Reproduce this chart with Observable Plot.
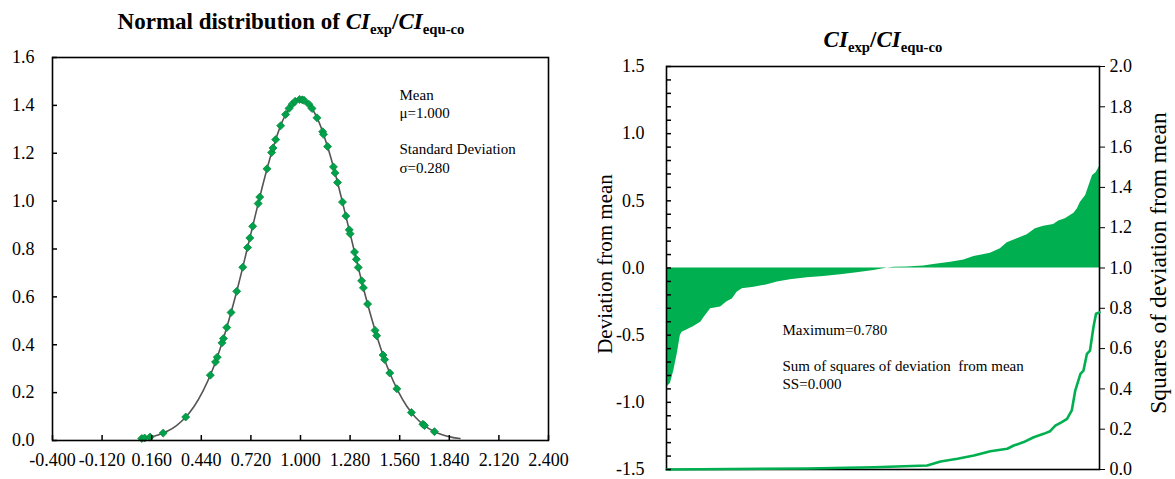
<!DOCTYPE html>
<html><head><meta charset="utf-8">
<script src="https://cdn.jsdelivr.net/npm/d3@7"></script>
<script src="https://cdn.jsdelivr.net/npm/@observablehq/plot@0.6"></script>
<style>
body{margin:0;background:#fff;width:1175px;height:479px;position:relative;overflow:hidden;font-family:"Liberation Serif","Times New Roman",serif;color:#000;}
#left{position:absolute;left:0;top:0;}
#right{position:absolute;left:580px;top:0;}
svg text{font-family:"Liberation Serif","Times New Roman",serif;}
.title{position:absolute;font-weight:bold;font-size:23px;white-space:nowrap;transform:translateX(-50%);line-height:1;}
.title i{font-style:italic}
.title sub{font-size:0.64em;font-style:normal;vertical-align:baseline;position:relative;top:0.32em}
.ytitle{position:absolute;font-size:21px;white-space:nowrap;line-height:1;transform:translate(-50%,-50%) rotate(-90deg);}
</style></head><body>
<div id="left"></div><div id="right"></div>
<div class="title" style="left:291px;top:10px">Normal distribution of <i>CI</i><sub>exp</sub>/<i>CI</i><sub>equ-co</sub></div>
<div class="title" style="left:883px;top:28px"><i>CI</i><sub>exp</sub>/<i>CI</i><sub>equ-co</sub></div>
<div class="ytitle" style="left:605px;top:264px">Deviation from mean</div>
<div class="ytitle" style="left:1159px;top:263px;font-size:23.5px">Squares of deviation from mean</div>
<script>
// ---------- Left chart data ----------
const xTicks = [-0.4, -0.12, 0.16, 0.44, 0.72, 1.0, 1.28, 1.56, 1.84, 2.12, 2.4];
const yTicksLeft = [0, 0.2, 0.4, 0.6, 0.8, 1.0, 1.2, 1.4, 1.6];
const curveX = [0.10,0.15,0.20,0.25,0.30,0.35,0.40,0.45,0.50,0.55,0.60,0.65,0.70,0.75,0.80,0.85,0.90,0.95,1.00,
                1.05,1.10,1.15,1.20,1.25,1.30,1.35,1.40,1.45,1.50,1.55,1.60,1.65,1.70,1.75,1.80,1.85,1.90];
const curveY = [0.0081,0.0142,0.0240,0.0394,0.0626,0.0963,0.143,0.207,0.289,0.392,0.514,0.652,0.803,0.956,1.104,1.234,1.337,1.402,1.425,
                1.402,1.337,1.234,1.104,0.956,0.803,0.652,0.514,0.392,0.289,0.207,0.143,0.0963,0.0626,0.0394,0.0240,0.0142,0.0081];
const pointX = [0.104,0.12,0.151,0.225,0.352,0.491,0.520,0.53,0.557,0.565,0.584,0.608,0.640,0.674,0.701,0.714,0.73,0.761,0.77,0.811,0.837,0.845,0.860,0.888,0.916,0.935,0.953,0.970,0.995,1.010,1.020,
                1.047,1.065,1.093,1.125,1.13,1.153,1.186,1.195,1.209,1.237,1.256,1.275,1.28,1.305,1.315,1.326,1.345,1.355,1.379,1.421,1.43,1.466,1.475,1.504,1.544,1.626,1.691,1.70,1.756];
const pointY = [0.0085,0.0102,0.0144,0.031,0.098,0.273,0.328,0.348,0.408,0.426,0.472,0.535,0.623,0.724,0.806,0.846,0.895,0.990,1.017,1.135,1.203,1.222,1.257,1.315,1.362,1.387,1.405,1.417,1.425,1.423,1.421,
                1.405,1.387,1.348,1.290,1.279,1.228,1.143,1.118,1.078,0.996,0.938,0.880,0.864,0.787,0.757,0.723,0.667,0.638,0.570,0.460,0.438,0.357,0.338,0.282,0.216,0.117,0.068,0.0626,0.037];
const leftNote = "Mean\nμ=1.000\n\nStandard Deviation\nσ=0.280";

// ---------- Right chart data ----------
const devTicks = [-1.5, -1.0, -0.5, 0, 0.5, 1.0, 1.5];
const devMinorTicks = [-1.5,-1.4,-1.3,-1.2,-1.1,-1.0,-0.9,-0.8,-0.7,-0.6,-0.5,-0.4,-0.3,-0.2,-0.1,0,0.1,0.2,0.3,0.4,0.5,0.6,0.7,0.8,0.9,1.0,1.1,1.2,1.3,1.4,1.5];
const sqTicks = [0, 0.2, 0.4, 0.6, 0.8, 1.0, 1.2, 1.4, 1.6, 1.8, 2.0];
const devRank  = [0,0.9,1.7,2.5,3.2,3.6,4.8,6.3,7.9,9.0,10.2,12.5,13.9,15.2,16.3,17.5,20.2,23.3,25.6,28.6,32.5,36.3,40.2,44.0,47.9,51.0,52.5,55.6,59.4,61.7,65.6,68.7,71.0,74.8,77.1,78.7,81.0,83.3,85.2,87.1,89.4,90.6,92.1,94.1,94.9,95.6,96.8,97.6,98.4,99.2,100];
const devValue = [-0.888,-0.86,-0.763,-0.637,-0.503,-0.478,-0.46,-0.436,-0.403,-0.354,-0.304,-0.291,-0.254,-0.23,-0.18,-0.155,-0.143,-0.125,-0.105,-0.088,-0.073,-0.063,-0.05,-0.036,-0.019,0.0,0.005,0.008,0.014,0.026,0.043,0.06,0.085,0.11,0.143,0.188,0.217,0.247,0.292,0.311,0.324,0.349,0.366,0.408,0.441,0.49,0.54,0.614,0.689,0.709,0.756];
const sqRank  = [0,32.5,47.9,60.2,63.3,67.2,71.0,74.8,78.7,80.2,82.5,84.8,87.1,88.6,89.8,91.3,92.5,93.6,94.4,95.6,96.3,97.1,97.8,98.6,99.2,100];
const sqValue = [0,0.005,0.011,0.02,0.04,0.053,0.069,0.091,0.103,0.119,0.136,0.16,0.177,0.19,0.218,0.235,0.251,0.293,0.392,0.475,0.491,0.574,0.59,0.706,0.773,0.78];
const rightNote = "Maximum=0.780\n\nSum of squares of deviation  from mean\nSS=0.000";

const curve = curveX.map((x, i) => ({x, y: curveY[i]}));
const points = pointX.map((x, i) => ({x, y: pointY[i]}));
const dev = devRank.map((r, i) => ({r, v: devValue[i]}));
const sq = sqRank.map((r, i) => ({r, s: sqValue[i]}));
// right axis (0..2) mapped onto left axis (-1.5..1.5)
const toLeft = s => s * 1.5 - 1.5;
const toRight = v => (v + 1.5) / 1.5;

const FF = "Liberation Serif, Times New Roman, serif";
const font = {fontFamily: FF, fontSize: "18px", color: "black", background: "white", overflow: "visible"};
const lab = {fontFamily: FF, fontSize: 18, fill: "black"};
const GREEN = "#00b050";

const left = Plot.plot({
  width: 580, height: 479,
  marginLeft: 52, marginRight: 32, marginTop: 57, marginBottom: 39,
  style: font,
  x: {domain: [-0.4, 2.4]},
  y: {domain: [0, 1.6]},
  marks: [
    Plot.line(curve, {x: "x", y: "y", stroke: "#555", strokeWidth: 1.6, curve: "catmull-rom"}),
    Plot.dot(points, {x: "x", y: "y", symbol: "diamond2", r: 3.6, fill: "#00a14b", stroke: "#078a3c", strokeWidth: 0.8}),
    Plot.frame({stroke: "black", strokeWidth: 1.6}),
    Plot.axisX(xTicks, {tickSize: -5, strokeWidth: 1.5, tickFormat: () => "", label: null}),
    Plot.axisX(xTicks, {...lab, tickSize: 0, tickPadding: 13, tickFormat: d => d.toFixed(3), label: null}),
    Plot.axisY(yTicksLeft, {tickSize: -5, strokeWidth: 1.5, tickFormat: () => "", label: null}),
    Plot.axisY(yTicksLeft, {...lab, tickSize: 0, tickPadding: 18, tickFormat: d => d.toFixed(1), label: null}),
    Plot.text([leftNote], {text: d => d, fontFamily: FF, frameAnchor: "top-left", dx: 347, dy: 29, textAnchor: "start", lineAnchor: "top", fontSize: 15, lineHeight: 1.22})
  ]
});
document.getElementById("left").appendChild(left);

const right = Plot.plot({
  width: 595, height: 479,
  marginLeft: 86, marginRight: 76, marginTop: 66, marginBottom: 10,
  style: font,
  x: {domain: [0, 100], axis: null},
  y: {domain: [-1.5, 1.5]},
  marks: [
    Plot.areaY(dev, {x: "r", y: "v", fill: GREEN}),
    Plot.frame({stroke: "black", strokeWidth: 1.6}),
    Plot.line(sq, {x: "r", y: d => toLeft(d.s), stroke: GREEN, strokeWidth: 2.6}),
    Plot.axisY(devMinorTicks, {anchor: "left", tickSize: -5, strokeWidth: 1.5, tickFormat: () => "", label: null}),
    Plot.axisY(devTicks, {...lab, anchor: "left", tickSize: 0, tickPadding: 22, tickFormat: d => d.toFixed(1), label: null}),
    Plot.axisY(sqTicks.map(toLeft), {...lab, anchor: "right", tickSize: 5, tickPadding: 5, strokeWidth: 1, tickFormat: d => toRight(d).toFixed(1), label: null}),
    Plot.text([rightNote], {text: d => d, fontFamily: FF, frameAnchor: "top-left", dx: 116, dy: 255, textAnchor: "start", lineAnchor: "top", fontSize: 15, lineHeight: 1.22})
  ]
});
document.getElementById("right").appendChild(right);
</script>
</body></html>
